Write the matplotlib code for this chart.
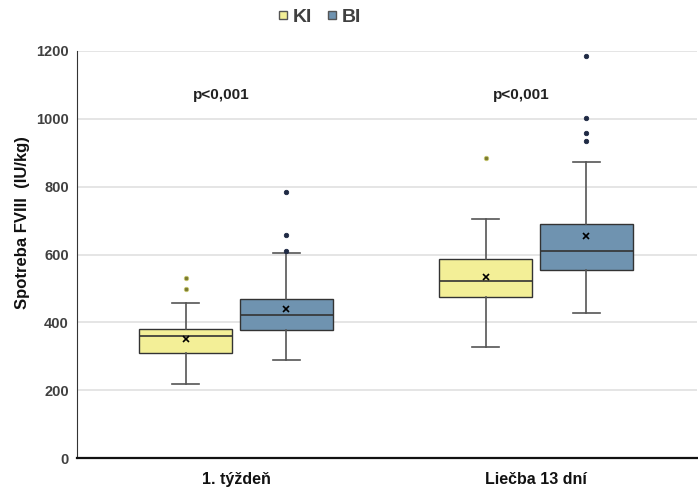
import matplotlib
matplotlib.use("Agg")
import matplotlib.pyplot as plt
from matplotlib.lines import Line2D

plt.rcParams["font.family"] = ["Liberation Sans", "DejaVu Sans"]

categories = ["1. týždeň", "Liečba 13 dní"]
series = ["KI", "BI"]
# per series: [week1, 13 days]
whislo = {"KI": [218, 327], "BI": [289, 427]}
q1 = {"KI": [310, 475], "BI": [377, 554]}
med = {"KI": [360, 523], "BI": [422, 611]}
q3 = {"KI": [380, 586], "BI": [469, 689]}
whishi = {"KI": [457, 705], "BI": [604, 872]}
mean = {"KI": [351, 535], "BI": [439, 654]}
fliers = {"KI": [[531, 498], [885]], "BI": [[784, 657, 610], [1186, 1003, 959, 934]]}
p_labels = ["p<0,001", "p<0,001"]
p_y = 1070
yticks = [0, 200, 400, 600, 800, 1000, 1200]

colors = {"KI": "#F3EF97", "BI": "#6F93B0"}
flier_colors = {"KI": "#7A7A30", "BI": "#1F2A44"}
offsets = {"KI": -0.168, "BI": 0.168}

fig = plt.figure(figsize=(6.98, 4.96), dpi=100)
ax = fig.add_axes([77/698, 38/496, 620/698, 407/496])

for s in series:
    stats = []
    for i in range(len(categories)):
        stats.append(dict(whislo=whislo[s][i], q1=q1[s][i], med=med[s][i], q3=q3[s][i],
                          whishi=whishi[s][i], mean=mean[s][i], fliers=fliers[s][i]))
    pos = [i + offsets[s] for i in range(len(categories))]
    ax.bxp(stats, positions=pos, widths=0.31, patch_artist=True, showmeans=True,
           capwidths=0.09,
           boxprops=dict(facecolor=colors[s], edgecolor="#333333", linewidth=1.0),
           medianprops=dict(color="#333333", linewidth=1.2),
           whiskerprops=dict(color="#555555", linewidth=1.2),
           capprops=dict(color="#555555", linewidth=1.2),
           meanprops=dict(marker="x", markeredgecolor="black", markersize=5, markeredgewidth=1.2),
           flierprops=dict(marker="o", markersize=3.2, markerfacecolor=flier_colors[s],
                           markeredgecolor=flier_colors[s] if s == "BI" else "#C8C870",
                           markeredgewidth=0.6))

for i, t in enumerate(p_labels):
    ax.text(i - 0.05, p_y, t, ha="center", va="center", fontsize=11, fontweight="bold", color="#222222")

ax.set_xlim(-0.53, 1.537)
ax.set_ylim(0, 1200)
ax.set_yticks(yticks)
ax.set_yticklabels([str(v) for v in yticks], fontsize=10.5, fontweight="bold", color="#404040")
ax.set_xticks(range(len(categories)))
ax.set_xticklabels(categories, fontsize=11.5, fontweight="bold", color="#111111")
ax.tick_params(axis="y", length=0, pad=6)
ax.tick_params(axis="x", length=0, pad=10)
ax.yaxis.grid(True, color="#E0E0E0", linewidth=1.2)
ax.set_axisbelow(True)
for sp in ["top", "right"]:
    ax.spines[sp].set_visible(False)
ax.spines["left"].set_color("#333333")
ax.spines["bottom"].set_color("#111111")
ax.spines["bottom"].set_linewidth(1.6)
fig.text(23/698, 1 - 223/496, "Spotreba FVIII  (IU/kg)", rotation=90, ha="center", va="center",
         fontsize=12, fontweight="bold", color="#111111")

handles = [Line2D([0], [0], marker="s", linestyle="none", markersize=6,
                  markerfacecolor=colors[s], markeredgecolor="#555555") for s in series]
leg = fig.legend(handles, series, loc="center", bbox_to_anchor=(318/698, 1 - 17/496), ncol=2,
                 frameon=False, handletextpad=0.1, columnspacing=0.6, handlelength=0.8,
                 prop=dict(size=14, weight="bold"))
for t in leg.get_texts():
    t.set_color("#404040")

fig.savefig("out.png", dpi=100)
